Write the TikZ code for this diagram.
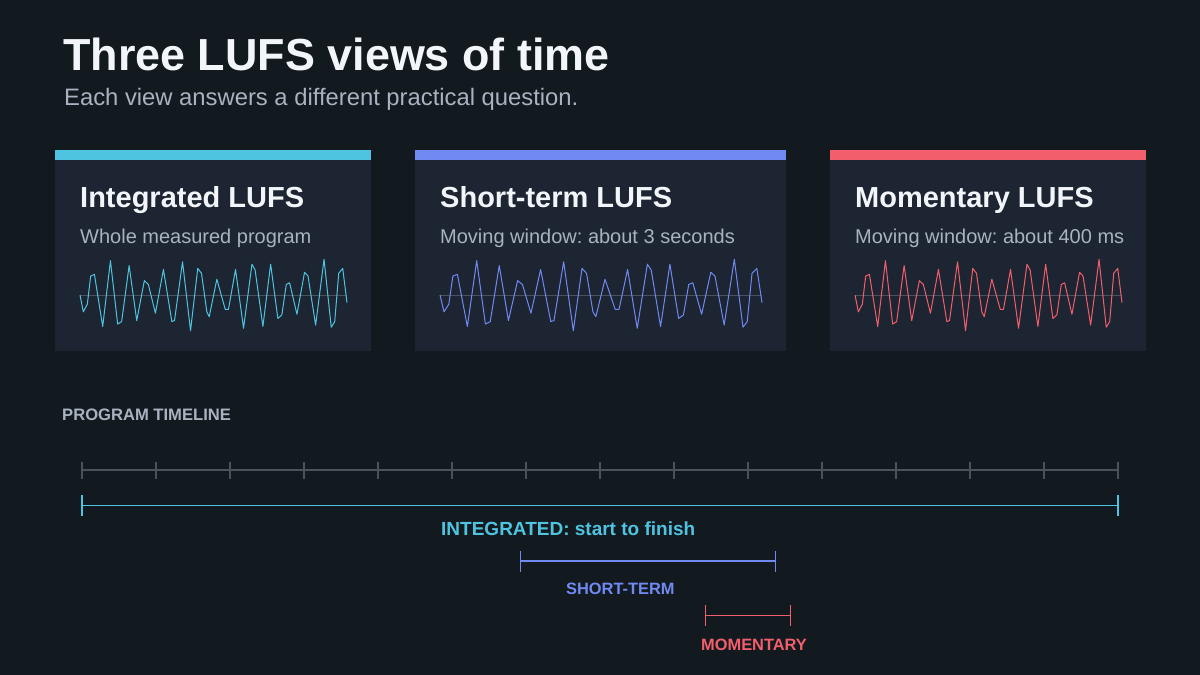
\documentclass[tikz,border=0pt]{standalone}
\usepackage{fontspec}
\setmainfont{Liberation Sans}
\frenchspacing
\usetikzlibrary{arrows.meta}

\definecolor{bgdark}{HTML}{12191F}
\definecolor{cardbg}{HTML}{1C2531}
\definecolor{intcol}{HTML}{4EC4E0}
\definecolor{stcol}{HTML}{7189F2}
\definecolor{momcol}{HTML}{F25E6B}
\definecolor{headtxt}{HTML}{F2F5F9}
\definecolor{subtxt}{HTML}{A9B3BF}
\definecolor{axisgray}{HTML}{4A525B}

% normalised wave samples (t in 0..1, v in -1..1)
\def\wavepts{0/0, 0.0125/-0.48, 0.0275/-0.26, 0.04/0.54, 0.054/0.59, 0.085/-0.90,
  0.114/0.98, 0.141/-0.83, 0.156/-0.76, 0.184/0.84, 0.2125/-0.73, 0.241/0.41,
  0.256/0.30, 0.2825/-0.52, 0.3125/0.73, 0.344/-0.76, 0.354/-0.73, 0.384/0.95,
  0.414/-1.02, 0.441/0.76, 0.455/0.62, 0.475/-0.48, 0.484/-0.62, 0.5125/0.45,
  0.544/-0.41, 0.556/-0.41, 0.5825/0.73, 0.6125/-0.95, 0.644/0.88, 0.656/0.71,
  0.685/-0.90, 0.714/0.88, 0.741/-0.67, 0.756/-0.57, 0.7725/0.30, 0.785/0.35,
  0.8125/-0.55, 0.841/0.65, 0.854/0.54, 0.8825/-0.86, 0.914/1.02, 0.941/-0.92,
  0.954/-0.76, 0.969/0.62, 0.984/0.76, 1/-0.22}

\tikzset{
  txt/.style = {inner sep=0pt, anchor=base west},
  cardhead/.style = {txt, text=headtxt, font=\fontsize{29}{33}\selectfont\bfseries},
  cardsub/.style = {txt, text=subtxt, font=\fontsize{20}{24}\selectfont},
  spanlbl/.style = {txt, font=\fontsize{16.4}{20}\selectfont\bfseries},
  span/.style = {line width=1.4pt},
  tick/.style = {axisgray, line width=1.3pt},
}

\begin{document}
\begin{tikzpicture}[x=1pt, y=-1pt]
  \useasboundingbox (0,0) rectangle (1200,675);
  \fill[bgdark] (0,0) rectangle (1200,675);

  % heading
  \node[txt, text=headtxt, font=\fontsize{44.9}{50}\selectfont\bfseries]
    (title) at (63,70) {Three LUFS views of time};
  \node[txt, text=subtxt, font=\fontsize{23.8}{28}\selectfont]
    (subtitle) at (64,105) {Each view answers a different practical question.};

  % cards
  \fill[cardbg] (55,150) rectangle (371,351);
  \fill[intcol] (55,150) rectangle (371,160);
  \fill[cardbg] (415,150) rectangle (786,351);
  \fill[stcol] (415,150) rectangle (786,160);
  \fill[cardbg] (830,150) rectangle (1146,351);
  \fill[momcol] (830,150) rectangle (1146,160);

  \node[cardhead] (inthead) at (80,207) {Integrated LUFS};
  \node[cardsub] (intsub) at (80,243) {Whole measured program};
  \node[cardhead] (sthead) at (440,207) {Short-term LUFS};
  \node[cardsub] (stsub) at (440,243) {Moving window: about 3 seconds};
  \node[cardhead] (momhead) at (855,207) {Momentary LUFS};
  \node[cardsub] (momsub) at (855,243) {Moving window: about 400 ms};

  % waves
  \foreach \xo/\wd/\col in {80/267/intcol, 440/322/stcol, 855/267/momcol} {
    \draw[axisgray, line width=0.8pt] (\xo,295) -- ++(\wd,0);
    \begin{scope}[shift={(\xo,295)}, xscale=\wd, yscale=-35]
      \draw[\col, line width=1pt, line join=round]
        (0,0) \foreach \t/\v in \wavepts {-- (\t,\v)};
    \end{scope}
  }

  % timeline
  \node[txt, text=subtxt, font=\fontsize{16.6}{20}\selectfont\bfseries]
    (tl) at (62,420) {PROGRAM TIMELINE};
  \coordinate (axL) at (82,470);
  \coordinate (axR) at (1118,470);
  \draw[tick] (axL) -- (axR);
  \foreach \i in {0,...,14}
    \draw[tick] (82+74*\i,462) -- (82+74*\i,479);

  \coordinate (intL) at (82,505.5);
  \coordinate (intR) at (1118,505.5);
  \draw[span, intcol] (intL) -- (intR);
  \foreach \c in {intL, intR}
    \draw[span, intcol] ([yshift=10.5pt]\c) -- ([yshift=-10.5pt]\c);
  \node[spanlbl, text=intcol, font=\fontsize{19}{22}\selectfont\bfseries]
    (intlbl) at (441,535) {INTEGRATED: start to finish};

  \coordinate (stL) at (520.5,561);
  \coordinate (stR) at (775.5,561);
  \draw[span, stcol] (stL) -- (stR);
  \foreach \c in {stL, stR}
    \draw[span, stcol] ([yshift=10.5pt]\c) -- ([yshift=-10.5pt]\c);
  \node[spanlbl, text=stcol] (stlbl) at (566,594) {SHORT-TERM};

  \coordinate (momL) at (705.5,615.5);
  \coordinate (momR) at (790.5,615.5);
  \draw[span, momcol] (momL) -- (momR);
  \foreach \c in {momL, momR}
    \draw[span, momcol] ([yshift=10.5pt]\c) -- ([yshift=-10.5pt]\c);
  \node[spanlbl, text=momcol] (momlbl) at (701,650) {MOMENTARY};
\end{tikzpicture}
\end{document}
